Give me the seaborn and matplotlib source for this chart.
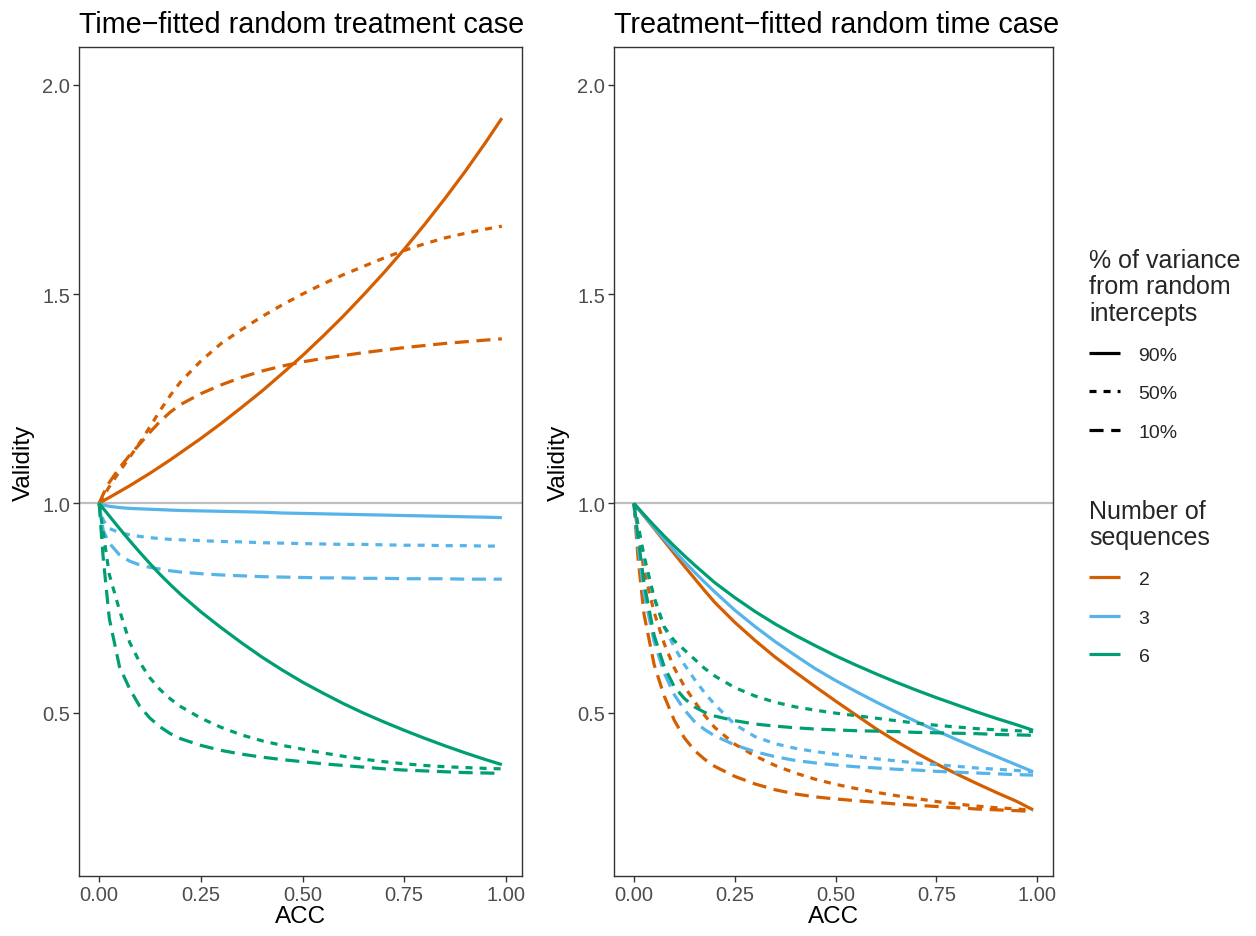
import numpy as np
import pandas as pd
import matplotlib
matplotlib.use("Agg")
import matplotlib.pyplot as plt
from matplotlib.lines import Line2D
import seaborn as sns

# ACC values the curves were read at
acc = [0, 0.01, 0.025, 0.05, 0.075, 0.1, 0.125, 0.15, 0.175, 0.2, 0.25, 0.3, 0.35,
       0.4, 0.45, 0.5, 0.55, 0.6, 0.65, 0.7, 0.75, 0.8, 0.85, 0.9, 0.95, 0.99]

# left panel: time-fitted, random treatment
left_2_90 = [1.0, 1.006, 1.014, 1.028, 1.042, 1.057, 1.072, 1.088, 1.104, 1.121, 1.155, 1.191, 1.229,
             1.268, 1.31, 1.353, 1.399, 1.447, 1.498, 1.551, 1.607, 1.666, 1.728, 1.793, 1.862, 1.92]
left_2_50 = [1.0, 1.016, 1.04, 1.076, 1.11, 1.145, 1.183, 1.222, 1.258, 1.29, 1.34, 1.382, 1.415,
             1.446, 1.474, 1.5, 1.524, 1.546, 1.566, 1.586, 1.604, 1.62, 1.634, 1.645, 1.655, 1.662]
left_2_10 = [1.0, 1.022, 1.05, 1.085, 1.115, 1.142, 1.17, 1.196, 1.218, 1.236, 1.262, 1.283, 1.301,
             1.316, 1.328, 1.338, 1.346, 1.353, 1.36, 1.366, 1.372, 1.377, 1.382, 1.386, 1.39, 1.393]
left_3_90 = [1.0, 0.996, 0.993, 0.99, 0.988, 0.987, 0.986, 0.985, 0.984, 0.983, 0.982, 0.981, 0.98,
             0.979, 0.977, 0.976, 0.975, 0.974, 0.973, 0.972, 0.971, 0.97, 0.969, 0.968, 0.967, 0.966]
left_3_50 = [1.0, 0.96, 0.94, 0.93, 0.925, 0.921, 0.918, 0.916, 0.914, 0.913, 0.911, 0.909, 0.908,
             0.906, 0.905, 0.904, 0.903, 0.902, 0.902, 0.901, 0.9, 0.9, 0.899, 0.899, 0.898, 0.898]
left_3_10 = [1.0, 0.935, 0.905, 0.877, 0.862, 0.853, 0.847, 0.843, 0.839, 0.836, 0.832, 0.829, 0.827,
             0.825, 0.824, 0.823, 0.822, 0.822, 0.821, 0.821, 0.82, 0.82, 0.82, 0.819, 0.819, 0.819]
left_6_90 = [1.0, 0.988, 0.97, 0.94, 0.911, 0.883, 0.856, 0.83, 0.806, 0.783, 0.741, 0.703, 0.667,
             0.633, 0.602, 0.573, 0.547, 0.522, 0.499, 0.478, 0.458, 0.439, 0.421, 0.404, 0.388, 0.376]
left_6_50 = [1.0, 0.93, 0.83, 0.745, 0.668, 0.62, 0.583, 0.555, 0.533, 0.515, 0.487, 0.465, 0.447,
             0.433, 0.422, 0.413, 0.404, 0.396, 0.389, 0.383, 0.378, 0.374, 0.371, 0.369, 0.367, 0.366]
left_6_10 = [1.0, 0.87, 0.725, 0.61, 0.557, 0.515, 0.487, 0.466, 0.45, 0.438, 0.422, 0.41, 0.401,
             0.394, 0.388, 0.383, 0.378, 0.374, 0.37, 0.366, 0.363, 0.361, 0.359, 0.357, 0.356, 0.355]

# right panel: treatment-fitted, random time
right_2_90 = [1.0, 0.988, 0.97, 0.94, 0.91, 0.88, 0.85, 0.821, 0.792, 0.764, 0.716, 0.673, 0.633,
              0.597, 0.562, 0.528, 0.495, 0.462, 0.432, 0.404, 0.378, 0.354, 0.331, 0.309, 0.288, 0.268]
right_2_50 = [1.0, 0.93, 0.84, 0.74, 0.665, 0.607, 0.563, 0.527, 0.494, 0.465, 0.425, 0.397, 0.374,
              0.356, 0.341, 0.329, 0.319, 0.31, 0.302, 0.295, 0.288, 0.282, 0.277, 0.273, 0.27, 0.267]
right_2_10 = [1.0, 0.87, 0.735, 0.615, 0.54, 0.482, 0.44, 0.41, 0.389, 0.372, 0.348, 0.33, 0.316,
              0.306, 0.299, 0.294, 0.29, 0.286, 0.282, 0.279, 0.276, 0.273, 0.27, 0.268, 0.266, 0.264]
right_3_90 = [1.0, 0.988, 0.971, 0.942, 0.914, 0.887, 0.861, 0.836, 0.812, 0.789, 0.745, 0.706, 0.67,
              0.637, 0.605, 0.577, 0.551, 0.526, 0.502, 0.479, 0.457, 0.436, 0.415, 0.395, 0.375, 0.359]
right_3_50 = [1.0, 0.94, 0.865, 0.775, 0.705, 0.657, 0.615, 0.58, 0.548, 0.52, 0.472, 0.443, 0.426,
              0.415, 0.407, 0.401, 0.395, 0.39, 0.385, 0.38, 0.376, 0.372, 0.368, 0.365, 0.362, 0.359]
right_3_10 = [1.0, 0.9, 0.785, 0.67, 0.595, 0.543, 0.507, 0.479, 0.46, 0.445, 0.423, 0.407, 0.395,
              0.386, 0.38, 0.375, 0.371, 0.368, 0.365, 0.363, 0.36, 0.358, 0.356, 0.354, 0.352, 0.351]
right_6_90 = [1.0, 0.989, 0.973, 0.947, 0.922, 0.898, 0.875, 0.853, 0.832, 0.811, 0.775, 0.742, 0.712,
              0.685, 0.66, 0.636, 0.614, 0.593, 0.573, 0.554, 0.536, 0.519, 0.502, 0.486, 0.471, 0.458]
right_6_50 = [1.0, 0.95, 0.875, 0.775, 0.705, 0.672, 0.65, 0.628, 0.606, 0.588, 0.56, 0.54, 0.525,
              0.514, 0.506, 0.499, 0.493, 0.487, 0.481, 0.475, 0.47, 0.466, 0.462, 0.459, 0.457, 0.455]
right_6_10 = [1.0, 0.92, 0.81, 0.685, 0.61, 0.562, 0.534, 0.514, 0.501, 0.492, 0.481, 0.473, 0.468,
              0.464, 0.461, 0.459, 0.457, 0.456, 0.455, 0.453, 0.452, 0.451, 0.45, 0.448, 0.447, 0.446]

sequences = ["2", "3", "6"]
variances = ["90%", "50%", "10%"]
titles = ["Time\u2212fitted random treatment case", "Treatment\u2212fitted random time case"]

left_series = {("2", "90%"): left_2_90, ("2", "50%"): left_2_50, ("2", "10%"): left_2_10,
               ("3", "90%"): left_3_90, ("3", "50%"): left_3_50, ("3", "10%"): left_3_10,
               ("6", "90%"): left_6_90, ("6", "50%"): left_6_50, ("6", "10%"): left_6_10}
right_series = {("2", "90%"): right_2_90, ("2", "50%"): right_2_50, ("2", "10%"): right_2_10,
                ("3", "90%"): right_3_90, ("3", "50%"): right_3_50, ("3", "10%"): right_3_10,
                ("6", "90%"): right_6_90, ("6", "50%"): right_6_50, ("6", "10%"): right_6_10}


def to_long(series):
    rows = []
    for (seq, var), vals in series.items():
        assert len(vals) == len(acc)
        for a, v in zip(acc, vals):
            rows.append({"ACC": a, "Validity": v, "Sequences": seq, "Variance": var})
    return pd.DataFrame(rows)


sns.set_style("white")
plt.rcParams["font.family"] = ["Liberation Sans", "DejaVu Sans"]

pal = {"2": "#D55E00", "3": "#56B4E9", "6": "#009E73"}
dash_map = {"90%": "", "50%": (2.2, 2.2), "10%": (4.4, 2.4)}
lw = 2.3

fig = plt.figure(figsize=(12.56, 9.37), dpi=100)
W, H = 1256, 937
ax_left = fig.add_axes([79 / W, 1 - 877 / H, 443 / W, 829 / H])
ax_right = fig.add_axes([614 / W, 1 - 877 / H, 439 / W, 829 / H])

for ax, series, title in [(ax_left, left_series, titles[0]), (ax_right, right_series, titles[1])]:
    df = to_long(series)
    ax.axhline(1.0, color="#BEBEBE", lw=1.6, zorder=1)
    sns.lineplot(data=df, x="ACC", y="Validity", hue="Sequences", style="Variance",
                 hue_order=sequences, style_order=variances, palette=pal, dashes=dash_map,
                 linewidth=lw, estimator=None, sort=False, legend=False, ax=ax,
                 solid_capstyle="butt", zorder=3)
    ax.set_xlim(-0.0495, 1.0395)
    ax.set_ylim(0.11, 2.09)
    ax.set_xticks([0, 0.25, 0.5, 0.75, 1.0])
    ax.set_xticklabels(["0.00", "0.25", "0.50", "0.75", "1.00"])
    ax.set_yticks([0.5, 1.0, 1.5, 2.0])
    ax.set_yticklabels(["0.5", "1.0", "1.5", "2.0"])
    ax.tick_params(axis="both", length=4, width=1.0, color="#333333",
                   labelcolor="#4D4D4D", labelsize=14.5, pad=2.5, direction="out",
                   bottom=True, left=True)
    for sp in ax.spines.values():
        sp.set_color("#333333")
        sp.set_linewidth(1.0)
    ax.set_xlabel("ACC", fontsize=17.5, color="black", labelpad=1)
    ax.set_ylabel("Validity", fontsize=17.5, color="black", labelpad=5)
    ax.set_title(title, fontsize=20.7, loc="left", pad=11, color="black")
    ax.grid(False)

# legends
leg_kw = dict(loc="upper left", frameon=False, fontsize=14, title_fontsize=18,
              handlelength=1.6, handletextpad=0.95, labelspacing=1.08, borderpad=0,
              borderaxespad=0)

var_handles = [Line2D([0], [0], color="black", lw=lw, solid_capstyle="butt"),
               Line2D([0], [0], color="black", lw=lw, dashes=dash_map["50%"]),
               Line2D([0], [0], color="black", lw=lw, dashes=dash_map["10%"])]
leg1 = fig.legend(var_handles, variances, title="% of variance\nfrom random\nintercepts",
                  bbox_to_anchor=(1089 / W, 1 - 249 / H), **leg_kw)
leg1._legend_box.align = "left"
leg1.get_title().set_linespacing(1.13)

seq_handles = [Line2D([0], [0], color=pal[s], lw=lw, solid_capstyle="butt") for s in sequences]
leg2 = fig.legend(seq_handles, sequences, title="Number of\nsequences",
                  bbox_to_anchor=(1089 / W, 1 - 500 / H), **leg_kw)
leg2._legend_box.align = "left"
leg2.get_title().set_linespacing(1.13)

fig.savefig("out.png", dpi=100)
